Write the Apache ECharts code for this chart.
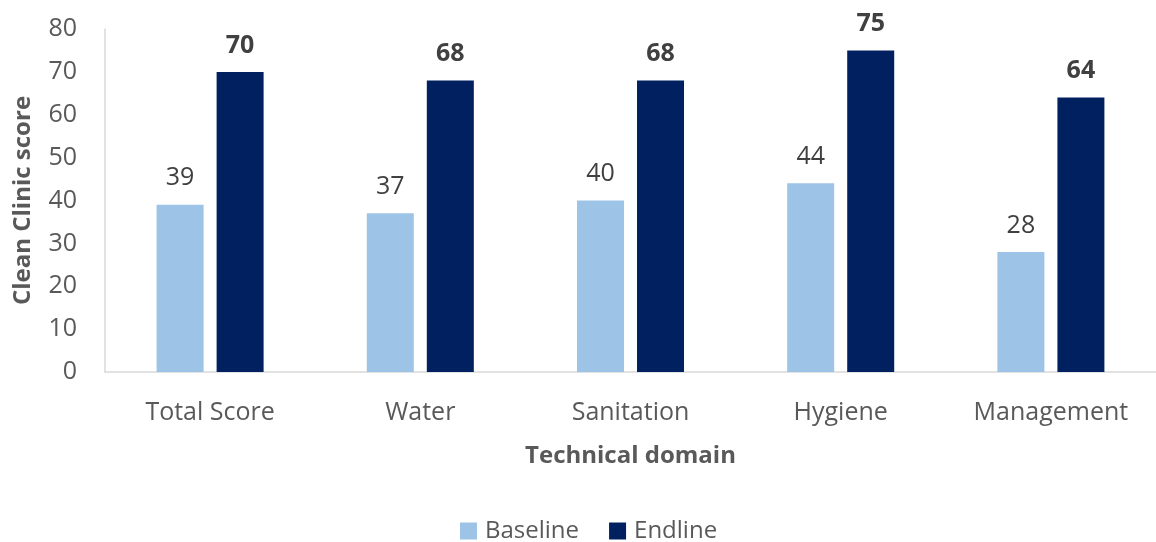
<!DOCTYPE html>
<html>
<head>
<meta charset="utf-8">
<script src="https://cdn.jsdelivr.net/npm/echarts@6/dist/echarts.min.js"></script>
<style>
  html, body { margin: 0; padding: 0; background: #ffffff; }
  #chart { width: 1156px; height: 542px; }
</style>
</head>
<body>
<div id="chart"></div>
<script>
// Clean Clinic scores by technical domain
const categories = ['Total Score', 'Water', 'Sanitation', 'Hygiene', 'Management'];
const baseline = [39, 37, 40, 44, 28];
const endline = [70, 68, 68, 75, 64];
const yTicks = { min: 0, max: 80, interval: 10 };

const FONT = '"Open Sans", Lato, sans-serif';
const chart = echarts.init(document.getElementById('chart'), null, { renderer: 'canvas' });

chart.setOption({
  animation: false,
  textStyle: { fontFamily: FONT },
  grid: { left: 105, top: 29, width: 1065, height: 343, containLabel: false },
  legend: {
    data: ['Baseline', 'Endline'],
    left: 460,
    top: 519,
    padding: 0,
    itemWidth: 17,
    itemHeight: 17,
    itemGap: 30,
    icon: 'rect',
    textStyle: { fontFamily: FONT, fontSize: 24, color: '#595959', padding: [0, 0, 0, 3] }
  },
  xAxis: {
    type: 'category',
    data: categories,
    name: 'Technical domain',
    nameLocation: 'middle',
    nameGap: 72,
    nameTextStyle: { fontFamily: FONT, fontSize: 24, fontWeight: 'bold', color: '#595959' },
    axisLine: { lineStyle: { color: '#d9d9d9', width: 1.5 } },
    axisTick: { show: false },
    axisLabel: { fontFamily: FONT, fontSize: 25, color: '#595959', margin: 28 }
  },
  yAxis: {
    type: 'value',
    min: yTicks.min,
    max: yTicks.max,
    interval: yTicks.interval,
    name: 'Clean Clinic score',
    nameLocation: 'middle',
    nameGap: 70,
    nameTextStyle: { fontFamily: FONT, fontSize: 24, fontWeight: 'bold', color: '#595959' },
    axisLine: { show: true, lineStyle: { color: '#d9d9d9', width: 1.5 } },
    axisTick: { show: false },
    splitLine: { show: false },
    axisLabel: { fontFamily: FONT, fontSize: 25, color: '#595959', margin: 28 }
  },
  series: [
    {
      name: 'Baseline',
      type: 'bar',
      data: baseline,
      barWidth: 47,
      barGap: '27.7%',
      itemStyle: { color: '#9DC3E6' },
      label: { show: true, position: 'top', distance: 14, fontFamily: FONT, fontSize: 25, color: '#404040' }
    },
    {
      name: 'Endline',
      type: 'bar',
      data: endline,
      barWidth: 47,
      itemStyle: { color: '#002060' },
      label: { show: true, position: 'top', distance: 14, fontFamily: FONT, fontSize: 25, fontWeight: 'bold', color: '#404040' }
    }
  ]
});
</script>
</body>
</html>
